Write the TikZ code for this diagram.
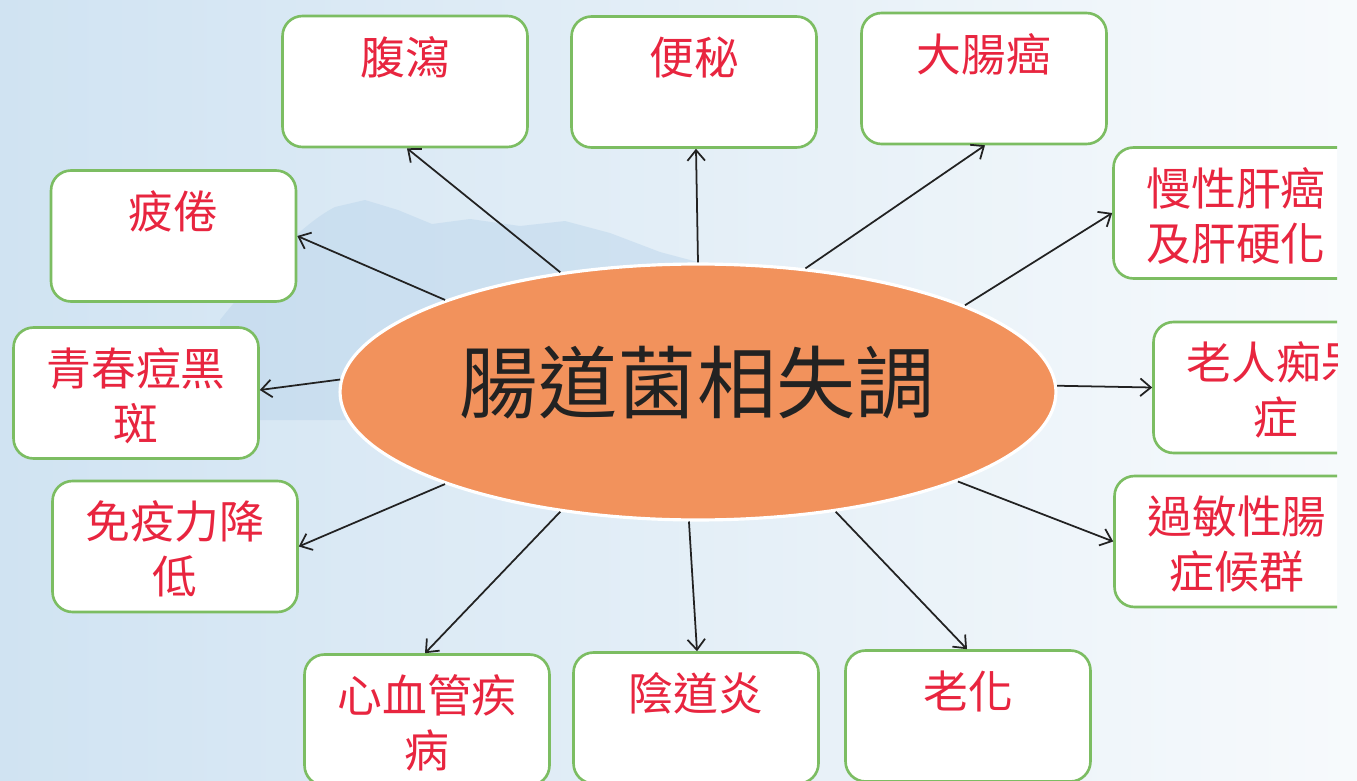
\documentclass[tikz,border=0pt]{standalone}
\usepackage{fontspec}
\newfontfamily\cjk{Noto Sans CJK TC}
\usetikzlibrary{arrows.meta,shapes.geometric}
\definecolor{boxgreen}{HTML}{7CBD62}
\definecolor{txtred}{HTML}{E8253F}
\definecolor{ellfill}{HTML}{F2925C}
\definecolor{skyA}{HTML}{D0E3F2}
\definecolor{skyB}{HTML}{F7FAFC}
\definecolor{mount}{HTML}{B8D3EA}
\definecolor{inkdark}{HTML}{222222}
\begin{document}
\begin{tikzpicture}[x=0.02cm,y=-0.02cm,
  box/.style={draw=boxgreen, line width=1.5pt, fill=white, rounded corners=0.4cm,
    minimum width=4.9cm, minimum height=2.62cm, inner sep=0},
  lbl/.style={text=txtred, font=\cjk\fontsize{25.5}{31.2}\selectfont, align=center,
    inner sep=0, anchor=north, yshift=-0.42cm},
  arr/.style={-{Straight Barb[length=6pt,width=10pt,line width=1pt]}, line width=1pt, draw=inkdark},
]
\useasboundingbox (0,0) rectangle (1357,781);
\clip (0,0) rectangle (1357,781);
% background sky and mountains
\shade[left color=skyA, right color=skyB] (0,0) rectangle (1357,781);
\fill[mount, opacity=0.45] (220,320) .. controls (260,270) and (300,225) .. (335,207)
  -- (365,200) -- (398,210) -- (432,224) -- (470,219) -- (520,226) -- (565,221)
  -- (610,233) -- (660,252) -- (720,268) -- (720,420) -- (220,420) -- cycle;

% central ellipse
\node[ellipse, fill=ellfill, draw=white, line width=1.8pt, minimum width=14.32cm,
  minimum height=5.12cm, inner sep=0] (c) at (698,392) {};
\node[font=\cjk\fontsize{45}{50}\selectfont, text=inkdark, inner sep=0] (ct) at (697,383) {腸道菌相失調};

\begin{scope}
\clip (0,0) rectangle (1337,781);
\node[box] (b1) at (405,81.5) {};
\node[lbl] (t1) at (b1.north) {腹瀉};
\node[box] (b2) at (694,82) {};
\node[lbl] (t2) at (b2.north) {便秘};
\node[box] (b3) at (984,78.5) {};
\node[lbl] (t3) at (b3.north) {大腸癌};
\node[box] (b4) at (173.5,236) {};
\node[lbl] (t4) at (b4.north) {疲倦};
\node[box] (b5) at (1236,213) {};
\node[lbl] (t5) at (b5.north) {慢性肝癌\\及肝硬化};
\node[box] (b6) at (136,393) {};
\node[lbl] (t6) at (b6.north) {青春痘黑\\斑};
\node[box] (b7) at (1276,387.5) {};
\node[lbl] (t7) at (b7.north) {老人痴呆\\症};
\node[box] (b8) at (175,546.5) {};
\node[lbl] (t8) at (b8.north) {免疫力降\\低};
\node[box] (b9) at (1237,541.5) {};
\node[lbl] (t9) at (b9.north) {過敏性腸\\症候群};
\node[box] (b10) at (427,720) {};
\node[lbl] (t10) at (b10.north) {心血管疾\\病};
\node[box] (b11) at (696,718) {};
\node[lbl] (t11) at (b11.north) {陰道炎};
\node[box] (b12) at (968,716) {};
\node[lbl] (t12) at (b12.north) {老化};
\end{scope}

% connectors
\draw[arr] (c.139.8) -- ([xshift=0.04cm]b1.south);
\draw[arr] (c.90) -- ([xshift=0.04cm]b2.south);
\draw[arr] (c.49.2) -- ([xshift=0.02cm]b3.south);
\draw[arr] (c.160) -- (b4.east);
\draw[arr] (c.18.4) -- (b5.west);
\draw[arr] (c.178.6) -- ([yshift=0.06cm]b6.east);
\draw[arr] (c.1.75) -- (b7.west);
\draw[arr] (c.200.6) -- (b8.east);
\draw[arr] (c.341.6) -- (b9.west);
\draw[arr] (c.221) -- ([xshift=-0.04cm]b10.north);
\draw[arr] (c.266.5) -- ([xshift=0.02cm]b11.north);
\draw[arr] (c.319.4) -- ([xshift=-0.02cm]b12.north);
\end{tikzpicture}
\end{document}
